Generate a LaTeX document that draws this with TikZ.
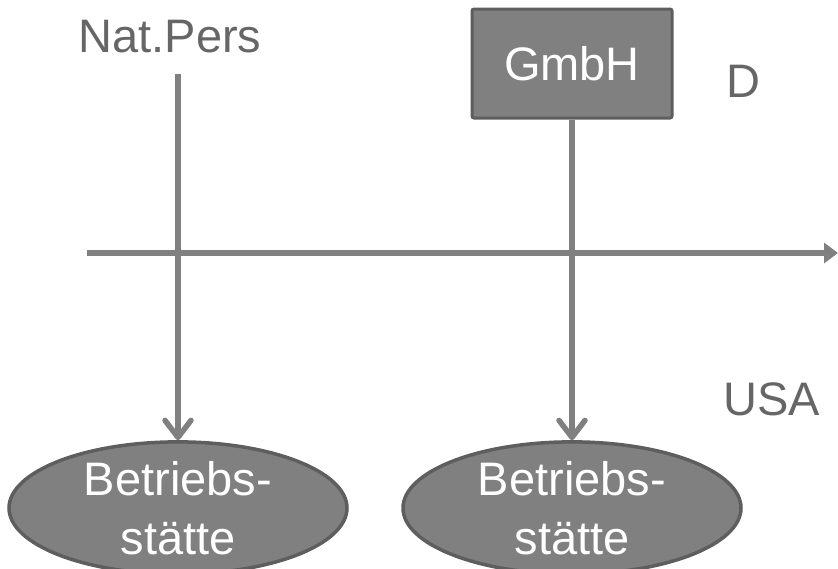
\documentclass[tikz,border=0pt]{standalone}
\usepackage{fontspec}
\setmainfont{Liberation Sans}
\usetikzlibrary{calc, shapes.geometric, arrows.meta, positioning}

\begin{document}
\begin{tikzpicture}[x=1pt,y=-1pt,
	every node/.style={inner sep=0pt,font=\fontsize{47}{59}\selectfont},
	lbl/.style={text=black!60},
	firm/.style={draw=black!63,fill=black!50,line width=3pt,rounded corners=2pt,text=white,minimum width=200pt,minimum height=109pt},
	bst/.style={ellipse,draw=black!63,fill=black!50,line width=3.5pt,text=white,align=center,minimum width=338pt,minimum height=122pt},
	conn/.style={draw=black!50,line width=5.5pt,-{Straight Barb[length=17pt,width=26pt,line cap=round,line join=round]}},
	axis/.style={draw=black!50,line width=5.5pt,-{Triangle[length=14pt,width=20pt]}}]
	\useasboundingbox (0,0) rectangle (838,568);
	\node[lbl,anchor=base] (natpers) at (170,52) {Nat.Pers};
	\node[firm] (gmbh) at (572,63.5) {GmbH};
	\node[lbl,anchor=base] (land1) at (743,97) {D};
	\node[lbl,anchor=base] (land2) at (772,415) {USA};
	\node[bst] (bs1) at (178,508) {Betriebs-\\stätte};
	\node[bst] (bs2) at (572,508) {Betriebs-\\stätte};
	\coordinate (axL) at (87,253);
	\coordinate (axR) at (838,253);
	\draw[axis] (axL) -- (axR);
	\draw[conn,shorten <=21pt] (natpers.south -| bs1.north) -- (bs1.north);
	\draw[conn] (gmbh.south) -- (bs2.north);
\end{tikzpicture}
\end{document}
